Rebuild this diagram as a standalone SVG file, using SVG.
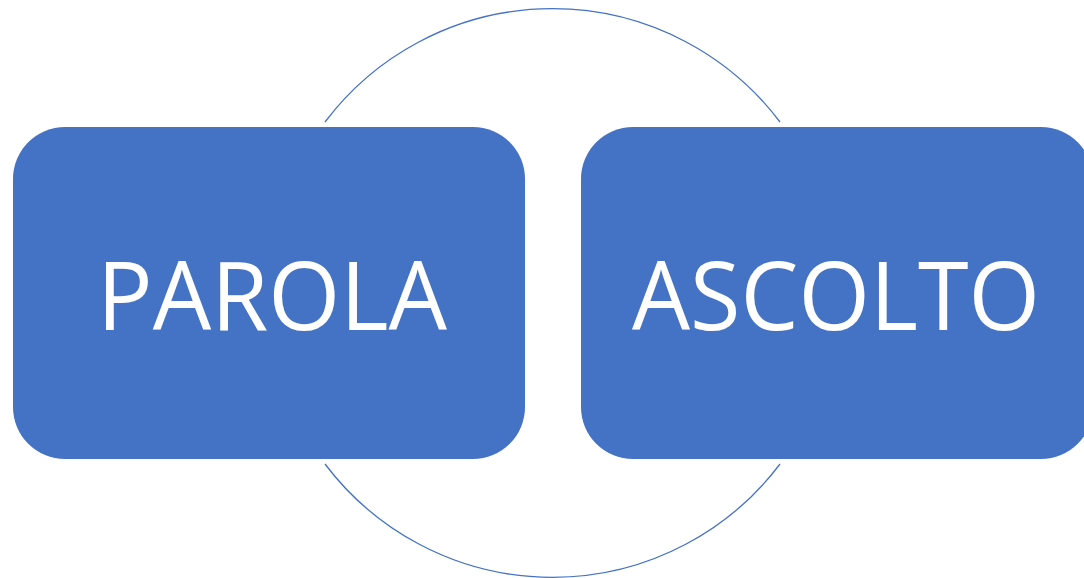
<svg xmlns="http://www.w3.org/2000/svg" width="1084" height="578" viewBox="0 0 1084 578">
<style>
.box{fill:#4472C4}
.arc{fill:none;stroke:#4472C4;stroke-width:1.3}
.lbl{fill:#fff;font-family:"Open Sans","Liberation Sans",sans-serif;font-size:96px}
</style>
<rect width="1084" height="578" fill="#fff"/>
<g id="connectors">
<path class="arc" d="M325,122 A285,285 0 0 1 780,122"/>
<path class="arc" d="M325,464 A285,285 0 0 0 780,464"/>
</g>
<g id="parola">
<rect class="box" x="13" y="127" width="512" height="332" rx="52" ry="52"/>
<text class="lbl" x="97" y="330" textLength="350" lengthAdjust="spacingAndGlyphs">PAROLA</text>
</g>
<g id="ascolto">
<rect class="box" x="581" y="127" width="512" height="332" rx="52" ry="52"/>
<text class="lbl" x="632" y="330" textLength="408" lengthAdjust="spacingAndGlyphs">ASCOLTO</text>
</g>
</svg>
